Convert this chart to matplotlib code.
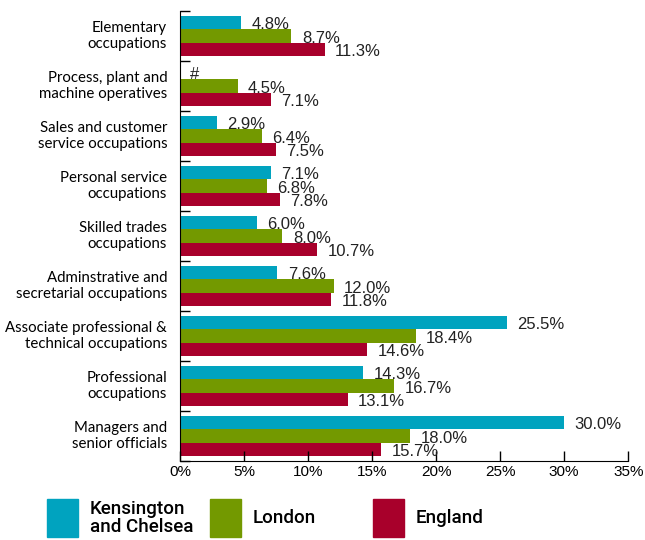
import matplotlib.pyplot as plt
from matplotlib.patches import Rectangle
import numpy as np

categories = ['Elementary\noccupations', 'Process, plant and\nmachine operatives',
              'Sales and customer\nservice occupations', 'Personal service\noccupations',
              'Skilled trades\noccupations', 'Adminstrative and\nsecretarial occupations',
              'Associate professional &\ntechnical occupations', 'Professional\noccupations',
              'Managers and\nsenior officials']
kc = [4.8, None, 2.9, 7.1, 6.0, 7.6, 25.5, 14.3, 30.0]
london = [8.7, 4.5, 6.4, 6.8, 8.0, 12.0, 18.4, 16.7, 18.0]
england = [11.3, 7.1, 7.5, 7.8, 10.7, 11.8, 14.6, 13.1, 15.7]
series = ['Kensington\nand Chelsea', 'London', 'England']
colors = ['#00A3BF', '#739900', '#A8002B']
xticks = [0, 5, 10, 15, 20, 25, 30, 35]

fig = plt.figure(figsize=(6.45, 5.4), dpi=100)
ax = fig.add_axes([0.279, 0.1463, 0.695, 0.8333])

y = np.arange(len(categories))
h = 0.27
for vals, off, c in zip([kc, london, england], [-h, 0, h], colors):
    v = [0 if x is None else x for x in vals]
    ax.barh(y + off, v, height=h, color=c)
    for yi, x in zip(y + off, vals):
        lab = '#' if x is None else f'{x:.1f}%'
        ax.annotate(lab, (0 if x is None else x, yi), xytext=(7.5, -1.5),
                    textcoords='offset points', va='center', ha='left',
                    fontsize=12, family='Liberation Sans', color='#222222')

ax.set_ylim(len(categories) - 0.5, -0.5)
ax.set_xlim(0, 35)
ax.set_xticks(xticks)
ax.set_xticklabels([f'{t}%' for t in xticks], family='Liberation Sans', fontsize=11)
ax.set_yticks(np.arange(len(categories) + 1) - 0.5)
ax.set_yticklabels([])
ax.tick_params(axis='both', direction='in', length=7.5, width=1, pad=3)
for yi, cat in zip(y, categories):
    ax.text(-1.0, yi, cat, ha='right', va='center', fontsize=10.8,
            family='Lato', linespacing=1.12, transform=ax.transData)
for s in ['top', 'right']:
    ax.spines[s].set_visible(False)

# legend
for i, (name, c) in enumerate(zip(series, colors)):
    x0 = (47 + 163 * i) / 645
    fig.add_artist(Rectangle((x0, 1 - 537 / 540), 31 / 645, 38 / 540,
                             color=c, transform=fig.transFigure))
    fig.text(x0 + 43 / 645, 1 - 518 / 540, name, va='center', ha='left',
             fontsize=13.5, fontweight=500, family='Roboto',
             linespacing=1.0)

fig.savefig('out.png')
